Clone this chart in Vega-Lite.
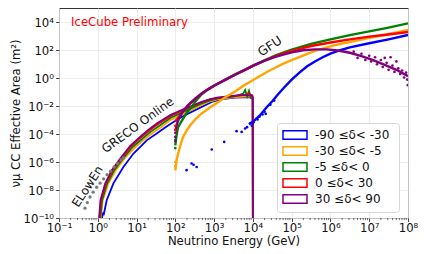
{
  "$schema": "https://vega.github.io/schema/vega-lite/v6.json",
  "width": 349,
  "height": 210,
  "autosize": "none",
  "padding": {"left": 59, "top": 8, "right": 16, "bottom": 36},
  "background": "white",
  "config": {
    "font": "DejaVu Sans",
    "view": {"stroke": "#333", "strokeWidth": 1},
    "axis": {
      "domain": false, "tickColor": "#333", "tickSize": 3.5, "tickWidth": 0.9,
      "labelFontSize": 11.7, "labelColor": "#111", "titleFontSize": 11.7,
      "titleFontWeight": "normal", "titleColor": "#111", "labelPadding": 2,
      "titlePadding": 2, "labelFlush": false, "labelOverlap": false,
      "gridColor": "#e8e8e8", "gridWidth": 0.8
    }
  },
  "datasets": {
    "greco": [
      {"b":"n90","E":1.259,"A":6.31e-11},{"b":"n90","E":1.349,"A":2.512e-10},{"b":"n90","E":1.413,"A":1.585e-10},{"b":"n90","E":1.698,"A":1.862e-9},{"b":"n90","E":2.512,"A":2.884e-8},{"b":"n90","E":4.571,"A":4.467e-7},{"b":"n90","E":8.318,"A":4.074e-6},{"b":"n90","E":18.62,"A":3.715e-5},{"b":"n90","E":33.11,"A":1.122e-4},{"b":"n90","E":50.12,"A":2.512e-4},{"b":"n90","E":74.13,"A":5.248e-4},{"b":"n90","E":177.8,"A":2.291e-3},{"b":"n90","E":478.6,"A":8.913e-3},{"b":"n90","E":871,"A":2.042e-2},{"b":"n90","E":1585,"A":3.162e-2},{"b":"n90","E":3467,"A":4.169e-2},{"b":"n90","E":7943,"A":4.467e-2},{"b":"n90","E":9900,"A":3.548e-2},{"b":"n90","E":10000,"A":1e-11},
      {"b":"n30","E":1.175,"A":6.31e-11},{"b":"n30","E":1.349,"A":1.862e-9},{"b":"n30","E":1.862,"A":2.884e-8},{"b":"n30","E":2.884,"A":2.512e-7},{"b":"n30","E":4.898,"A":1.82e-6},{"b":"n30","E":8.913,"A":1.047e-5},{"b":"n30","E":15.85,"A":4.169e-5},{"b":"n30","E":26.3,"A":1.259e-4},{"b":"n30","E":44.67,"A":3.311e-4},{"b":"n30","E":74.13,"A":1e-3},{"b":"n30","E":125.9,"A":1.995e-3},{"b":"n30","E":213.8,"A":3.981e-3},{"b":"n30","E":478.6,"A":1.202e-2},{"b":"n30","E":794.3,"A":2.239e-2},{"b":"n30","E":1288,"A":3.162e-2},{"b":"n30","E":3467,"A":4.467e-2},{"b":"n30","E":7943,"A":5.012e-2},{"b":"n30","E":9900,"A":3.981e-2},{"b":"n30","E":10000,"A":1e-11},
      {"b":"n5","E":1.148,"A":6.31e-11},{"b":"n5","E":1.288,"A":1.862e-9},{"b":"n5","E":1.738,"A":2.884e-8},{"b":"n5","E":2.63,"A":2.512e-7},{"b":"n5","E":4.467,"A":1.82e-6},{"b":"n5","E":7.943,"A":1.202e-5},{"b":"n5","E":14.45,"A":5.012e-5},{"b":"n5","E":23.44,"A":1.514e-4},{"b":"n5","E":39.81,"A":4.169e-4},{"b":"n5","E":74.13,"A":1.413e-3},{"b":"n5","E":125.9,"A":2.818e-3},{"b":"n5","E":213.8,"A":5.623e-3},{"b":"n5","E":478.6,"A":1.585e-2},{"b":"n5","E":794.3,"A":2.63e-2},{"b":"n5","E":1288,"A":3.548e-2},{"b":"n5","E":3467,"A":5.012e-2},{"b":"n5","E":5623,"A":7.943e-2},{"b":"n5","E":6310,"A":0.1413},{"b":"n5","E":7079,"A":5.012e-2},{"b":"n5","E":7943,"A":0.1259},{"b":"n5","E":8913,"A":3.981e-2},{"b":"n5","E":9900,"A":3.162e-2},{"b":"n5","E":10000,"A":1e-11},
      {"b":"p0","E":1.096,"A":6.31e-11},{"b":"p0","E":1.202,"A":1.862e-9},{"b":"p0","E":1.622,"A":2.884e-8},{"b":"p0","E":2.399,"A":2.512e-7},{"b":"p0","E":4.074,"A":1.82e-6},{"b":"p0","E":7.244,"A":1.318e-5},{"b":"p0","E":13.18,"A":6.026e-5},{"b":"p0","E":21.38,"A":1.82e-4},{"b":"p0","E":35.48,"A":5.012e-4},{"b":"p0","E":74.13,"A":1.905e-3},{"b":"p0","E":125.9,"A":3.802e-3},{"b":"p0","E":213.8,"A":7.244e-3},{"b":"p0","E":478.6,"A":1.905e-2},{"b":"p0","E":794.3,"A":3.02e-2},{"b":"p0","E":1288,"A":3.981e-2},{"b":"p0","E":3467,"A":5.37e-2},{"b":"p0","E":6310,"A":6.31e-2},{"b":"p0","E":7943,"A":7.943e-2},{"b":"p0","E":9333,"A":5.623e-2},{"b":"p0","E":9900,"A":3.981e-2},{"b":"p0","E":10000,"A":1e-11},
      {"b":"p30","E":1.072,"A":6.31e-11},{"b":"p30","E":1.175,"A":1.862e-9},{"b":"p30","E":1.549,"A":2.884e-8},{"b":"p30","E":2.291,"A":2.63e-7},{"b":"p30","E":3.802,"A":1.82e-6},{"b":"p30","E":6.761,"A":1.413e-5},{"b":"p30","E":12.3,"A":6.31e-5},{"b":"p30","E":19.95,"A":1.995e-4},{"b":"p30","E":33.1,"A":5.754e-4},{"b":"p30","E":74.13,"A":2.291e-3},{"b":"p30","E":125.9,"A":4.467e-3},{"b":"p30","E":213.8,"A":8.318e-3},{"b":"p30","E":478.6,"A":2.042e-2},{"b":"p30","E":794.3,"A":3.162e-2},{"b":"p30","E":1288,"A":4.169e-2},{"b":"p30","E":3467,"A":5.623e-2},{"b":"p30","E":6310,"A":6.31e-2},{"b":"p30","E":7943,"A":5.623e-2},{"b":"p30","E":9333,"A":6.31e-2},{"b":"p30","E":9900,"A":5.012e-2},{"b":"p30","E":10000,"A":1e-11}
    ],
    "gfu": [
      {"b":"n90","E":7943,"A":5.012e-4},{"b":"n90","E":11220,"A":1e-3},{"b":"n90","E":15850,"A":2.512e-3},{"b":"n90","E":22390,"A":7.943e-3},{"b":"n90","E":31620,"A":2.239e-2},{"b":"n90","E":44670,"A":7.079e-2},{"b":"n90","E":63100,"A":0.2089},{"b":"n90","E":100000,"A":0.7943},{"b":"n90","E":158500,"A":2.512},{"b":"n90","E":251200,"A":7.079},{"b":"n90","E":398100,"A":15.85},{"b":"n90","E":631000,"A":31.62},{"b":"n90","E":1000000,"A":56.23},{"b":"n90","E":1778000,"A":100},{"b":"n90","E":3162000,"A":158.5},{"b":"n90","E":10000000,"A":316.2},{"b":"n90","E":31620000,"A":602.6},{"b":"n90","E":100000000,"A":1230},
      {"b":"n30","E":100,"A":2.512e-7},{"b":"n30","E":107.2,"A":1.259e-6},{"b":"n30","E":117.5,"A":3.981e-6},{"b":"n30","E":134.9,"A":1.585e-5},{"b":"n30","E":158.5,"A":6.31e-5},{"b":"n30","E":199.5,"A":1.995e-4},{"b":"n30","E":263,"A":5.754e-4},{"b":"n30","E":354.8,"A":1.413e-3},{"b":"n30","E":478.6,"A":3.02e-3},{"b":"n30","E":794.3,"A":8.318e-3},{"b":"n30","E":1288,"A":1.995e-2},{"b":"n30","E":1995,"A":4.467e-2},{"b":"n30","E":3467,"A":0.1122},{"b":"n30","E":5623,"A":0.2818},{"b":"n30","E":8511,"A":0.5495},{"b":"n30","E":14130,"A":1.259},{"b":"n30","E":23440,"A":2.884},{"b":"n30","E":39810,"A":6.026},{"b":"n30","E":63100,"A":11.48},{"b":"n30","E":100000,"A":19.95},{"b":"n30","E":169800,"A":35.48},{"b":"n30","E":281800,"A":63.1},{"b":"n30","E":457100,"A":102.3},{"b":"n30","E":1230000,"A":223.9},{"b":"n30","E":3311000,"A":407.4},{"b":"n30","E":8913000,"A":707.9},{"b":"n30","E":23990000,"A":1230},{"b":"n30","E":50120000,"A":1862},{"b":"n30","E":100000000,"A":2818},
      {"b":"n5","E":100,"A":1.585e-5},{"b":"n5","E":107.2,"A":7.943e-5},{"b":"n5","E":117.5,"A":3.162e-4},{"b":"n5","E":158.5,"A":1.259e-3},{"b":"n5","E":199.5,"A":3.548e-3},{"b":"n5","E":263,"A":8.913e-3},{"b":"n5","E":354.8,"A":2.818e-2},{"b":"n5","E":478.6,"A":7.079e-2},{"b":"n5","E":707.9,"A":0.1585},{"b":"n5","E":1047,"A":0.3162},{"b":"n5","E":1995,"A":0.8318},{"b":"n5","E":3467,"A":1.862},{"b":"n5","E":6310,"A":4.169},{"b":"n5","E":10000,"A":7.943},{"b":"n5","E":19950,"A":19.05},{"b":"n5","E":39810,"A":44.67},{"b":"n5","E":100000,"A":112.2},{"b":"n5","E":316200,"A":281.8},{"b":"n5","E":1000000,"A":602.6},{"b":"n5","E":3162000,"A":1202},{"b":"n5","E":10000000,"A":2239},{"b":"n5","E":31620000,"A":4169},{"b":"n5","E":100000000,"A":8318},
      {"b":"p0","E":100,"A":7.943e-4},{"b":"p0","E":120.2,"A":1.585e-3},{"b":"p0","E":144.5,"A":3.162e-3},{"b":"p0","E":213.8,"A":1.175e-2},{"b":"p0","E":316.2,"A":3.162e-2},{"b":"p0","E":478.6,"A":7.943e-2},{"b":"p0","E":707.9,"A":0.166},{"b":"p0","E":1047,"A":0.3162},{"b":"p0","E":1995,"A":0.7943},{"b":"p0","E":3467,"A":1.778},{"b":"p0","E":6310,"A":3.981},{"b":"p0","E":10000,"A":7.586},{"b":"p0","E":19950,"A":17.78},{"b":"p0","E":39810,"A":39.81},{"b":"p0","E":100000,"A":89.13},{"b":"p0","E":316200,"A":199.5},{"b":"p0","E":1000000,"A":354.8},{"b":"p0","E":3162000,"A":602.6},{"b":"p0","E":10000000,"A":933.3},{"b":"p0","E":31620000,"A":1349},{"b":"p0","E":100000000,"A":1995},
      {"b":"p30","E":100,"A":1.585e-4},{"b":"p30","E":112.2,"A":6.31e-4},{"b":"p30","E":125.9,"A":1.413e-3},{"b":"p30","E":158.5,"A":4.467e-3},{"b":"p30","E":213.8,"A":1.122e-2},{"b":"p30","E":316.2,"A":3.162e-2},{"b":"p30","E":478.6,"A":7.943e-2},{"b":"p30","E":707.9,"A":0.166},{"b":"p30","E":1047,"A":0.3162},{"b":"p30","E":1995,"A":0.7943},{"b":"p30","E":3467,"A":1.778},{"b":"p30","E":6310,"A":3.981},{"b":"p30","E":10000,"A":7.586},{"b":"p30","E":19950,"A":17.78},{"b":"p30","E":39810,"A":35.48},{"b":"p30","E":100000,"A":70.79},{"b":"p30","E":199500,"A":100},{"b":"p30","E":398100,"A":114.8},{"b":"p30","E":794300,"A":114.8},{"b":"p30","E":1585000,"A":95.5},{"b":"p30","E":3162000,"A":66.07},{"b":"p30","E":6310000,"A":38.02},{"b":"p30","E":12590000,"A":19.95},{"b":"p30","E":25120000,"A":8.913},{"b":"p30","E":50120000,"A":3.981},{"b":"p30","E":100000000,"A":1.413}
    ],
    "pts": [
      {"b":"n90","E":195,"A":2.63e-7},{"b":"n90","E":263,"A":7.943e-7},{"b":"n90","E":295.1,"A":6.31e-7},{"b":"n90","E":354.8,"A":4.467e-7},{"b":"n90","E":871,"A":7.943e-6},{"b":"n90","E":1820,"A":2.754e-5},{"b":"n90","E":3802,"A":1.622e-4},{"b":"n90","E":5129,"A":1.445e-4},{"b":"n90","E":6310,"A":2.512e-4},{"b":"n90","E":7079,"A":3.162e-4},{"b":"n90","E":8511,"A":5.754e-4},{"b":"n90","E":9333,"A":3.981e-4},{"b":"n90","E":10470,"A":7.079e-4},{"b":"n90","E":13180,"A":1.122e-3},{"b":"n90","E":14790,"A":1.778e-3},{"b":"n90","E":17780,"A":2.512e-3},{"b":"n90","E":19950,"A":3.981e-3},{"b":"n90","E":21380,"A":2.818e-3},{"b":"n90","E":28180,"A":1.259e-2},{"b":"n90","E":35480,"A":2.512e-2},
      {"b":"n30","E":100,"A":5e-7},{"b":"n30","E":100,"A":1e-6},
      {"b":"n5","E":100,"A":3.981e-5},{"b":"n5","E":100,"A":1e-5},
      {"b":"p0","E":100,"A":3.981e-4},{"b":"p0","E":100,"A":2e-4},
      {"b":"p30","E":100,"A":6.31e-5},{"b":"p30","E":100,"A":3.162e-5},{"b":"p30","E":100,"A":1.259e-4},
      {"b":"p30","E":3981000,"A":79.43},{"b":"p30","E":5012000,"A":28.18},{"b":"p30","E":6310000,"A":56.23},{"b":"p30","E":7943000,"A":19.95},{"b":"p30","E":10000000,"A":39.81},{"b":"p30","E":11220000,"A":15.85},{"b":"p30","E":14130000,"A":31.62},{"b":"p30","E":15850000,"A":10},{"b":"p30","E":19950000,"A":19.95},{"b":"p30","E":22390000,"A":6.31},{"b":"p30","E":28180000,"A":12.59},{"b":"p30","E":31620000,"A":3.981},{"b":"p30","E":39810000,"A":7.943},{"b":"p30","E":44670000,"A":2.818},{"b":"p30","E":56230000,"A":5.012},{"b":"p30","E":63100000,"A":1.995},{"b":"p30","E":70790000,"A":3.548},{"b":"p30","E":79430000,"A":1.122},{"b":"p30","E":89130000,"A":2.512},{"b":"p30","E":95500000,"A":0.7943},{"b":"p30","E":50120000,"A":15.85},{"b":"p30","E":25120000,"A":28.18},{"b":"p30","E":35480000,"A":31.62},{"b":"p30","E":99000000,"A":0.3162}
    ],
    "elowen": [
      {"E":0.4677,"A":5.012e-10},{"E":0.537,"A":1.259e-9},{"E":0.631,"A":3.162e-9},{"E":0.7586,"A":7.079e-9},{"E":0.9333,"A":1.585e-8},{"E":1.148,"A":3.162e-8},{"E":1.413,"A":6.31e-8},{"E":1.738,"A":1.259e-7},{"E":2.138,"A":2.239e-7},{"E":2.63,"A":4.467e-7},{"E":3.236,"A":7.943e-7},{"E":3.981,"A":1.413e-6},{"E":4.571,"A":1.995e-6}
    ],
    "minor": [
      {"E":0.2},{"E":0.3},{"E":0.4},{"E":0.5},{"E":0.6},{"E":0.7},{"E":0.8},{"E":0.9},
      {"E":2},{"E":3},{"E":4},{"E":5},{"E":6},{"E":7},{"E":8},{"E":9},
      {"E":20},{"E":30},{"E":40},{"E":50},{"E":60},{"E":70},{"E":80},{"E":90},
      {"E":200},{"E":300},{"E":400},{"E":500},{"E":600},{"E":700},{"E":800},{"E":900},
      {"E":2000},{"E":3000},{"E":4000},{"E":5000},{"E":6000},{"E":7000},{"E":8000},{"E":9000},
      {"E":20000},{"E":30000},{"E":40000},{"E":50000},{"E":60000},{"E":70000},{"E":80000},{"E":90000},
      {"E":200000},{"E":300000},{"E":400000},{"E":500000},{"E":600000},{"E":700000},{"E":800000},{"E":900000},
      {"E":2000000},{"E":3000000},{"E":4000000},{"E":5000000},{"E":6000000},{"E":7000000},{"E":8000000},{"E":9000000},
      {"E":20000000},{"E":30000000},{"E":40000000},{"E":50000000},{"E":60000000},{"E":70000000},{"E":80000000},{"E":90000000}
    ]
  },
  "layer": [
    {
      "data": {"name": "greco"},
      "mark": {"type": "line", "strokeWidth": 1.8, "clip": true},
      "encoding": {
        "x": {"field": "E", "type": "quantitative",
              "scale": {"type": "log", "domain": [0.1, 100000000], "nice": false},
              "axis": {"title": "Neutrino Energy (GeV)", "grid": true, "titleY": 26.5, "titleBaseline": "alphabetic",
                       "labelPadding": 0.5,
                       "values": [0.1,1,10,100,1000,10000,100000,1000000,10000000,100000000],
                       "labelExpr": "['10⁻¹','10⁰','10¹','10²','10³','10⁴','10⁵','10⁶','10⁷','10⁸'][round(log(datum.value)/LN10)+1]"}},
        "y": {"field": "A", "type": "quantitative",
              "scale": {"type": "log", "domain": [1e-10, 105000], "nice": false},
              "axis": {"title": "νμ CC Effective Area (m²)", "grid": true,
                       "values": [1e-10,1e-8,1e-6,1e-4,1e-2,1,100,10000],
                       "labelExpr": "['10⁻¹⁰','10⁻⁸','10⁻⁶','10⁻⁴','10⁻²','10⁰','10²','10⁴'][round(log(datum.value)/LN10/2)+5]"}},
        "stroke": {"field": "b", "type": "nominal",
                  "scale": {"domain": ["n90","n30","n5","p0","p30"], "range": ["#0000ff","#ffa500","#008000","#ff0000","#800080"]},
                  "legend": {"title": null, "orient": "none", "legendX": 218, "legendY": 115,
                             "fillColor": "white", "strokeColor": "#d6d6d6", "cornerRadius": 3, "padding": 5,
                             "symbolType": "M-2,-0.7H2V0.7H-2Z", "symbolSize": 144, "symbolOffset": 6,
                             "symbolStrokeWidth": 1.5, "symbolFillColor": "white", "labelOffset": 13,
                             "labelFontSize": 12, "labelColor": "#111", "rowPadding": 0,
                             "encode": {"symbols": {"update": {"fill": {"value": "white"}}}},
                             "labelExpr": "datum.value=='n90' ? '-90 ≤δ<  -30' : datum.value=='n30' ? '-30 ≤δ<  -5' : datum.value=='n5' ? '-5 ≤δ<  0' : datum.value=='p0' ? '0 ≤δ<  30' : '30 ≤δ<  90'"}}
      }
    },
    {
      "data": {"name": "gfu"},
      "mark": {"type": "line", "strokeWidth": 2.4, "clip": true},
      "encoding": {
        "x": {"field": "E", "type": "quantitative"},
        "y": {"field": "A", "type": "quantitative"},
        "stroke": {"field": "b", "type": "nominal"}
      }
    },
    {
      "data": {"name": "pts"},
      "transform": [{"filter": {"field": "b", "equal": "n90"}}],
      "mark": {"type": "circle", "size": 7, "opacity": 1, "clip": true, "color": "#0000ff"},
      "encoding": {"x": {"field": "E", "type": "quantitative"}, "y": {"field": "A", "type": "quantitative"}}
    },
    {
      "data": {"name": "pts"},
      "transform": [{"filter": {"field": "b", "equal": "n30"}}],
      "mark": {"type": "circle", "size": 7, "opacity": 1, "clip": true, "color": "#ffa500"},
      "encoding": {"x": {"field": "E", "type": "quantitative"}, "y": {"field": "A", "type": "quantitative"}}
    },
    {
      "data": {"name": "pts"},
      "transform": [{"filter": {"field": "b", "equal": "n5"}}],
      "mark": {"type": "circle", "size": 7, "opacity": 1, "clip": true, "color": "#008000"},
      "encoding": {"x": {"field": "E", "type": "quantitative"}, "y": {"field": "A", "type": "quantitative"}}
    },
    {
      "data": {"name": "pts"},
      "transform": [{"filter": {"field": "b", "equal": "p0"}}],
      "mark": {"type": "circle", "size": 7, "opacity": 1, "clip": true, "color": "#ff0000"},
      "encoding": {"x": {"field": "E", "type": "quantitative"}, "y": {"field": "A", "type": "quantitative"}}
    },
    {
      "data": {"name": "pts"},
      "transform": [{"filter": {"field": "b", "equal": "p30"}}],
      "mark": {"type": "circle", "size": 7, "opacity": 1, "clip": true, "color": "#800080"},
      "encoding": {"x": {"field": "E", "type": "quantitative"}, "y": {"field": "A", "type": "quantitative"}}
    },
    {
      "data": {"name": "elowen"},
      "mark": {"type": "circle", "size": 11, "color": "#7a7a7a", "opacity": 1},
      "encoding": {
        "x": {"field": "E", "type": "quantitative"},
        "y": {"field": "A", "type": "quantitative"}
      }
    },
    {
      "data": {"name": "minor"},
      "mark": {"type": "rule", "color": "#333", "strokeWidth": 0.7, "clip": false},
      "encoding": {
        "x": {"field": "E", "type": "quantitative"},
        "y": {"datum": 1e-10, "type": "quantitative"},
        "y2": {"datum": 7.08e-11}
      }
    },
    {
      "data": {"values": [{"t": "IceCube Preliminary", "E": 0.204, "A": 10500}]},
      "mark": {"type": "text", "align": "left", "baseline": "middle", "fontSize": 11.7, "color": "#ff0000"},
      "encoding": {
        "x": {"field": "E", "type": "quantitative"},
        "y": {"field": "A", "type": "quantitative"},
        "text": {"field": "t"}
      }
    },
    {
      "data": {"values": [{"t": "GRECO Online", "E": 10.7, "A": 4.4e-4}]},
      "mark": {"type": "text", "align": "center", "baseline": "middle", "fontSize": 12, "angle": -36, "color": "#111"},
      "encoding": {
        "x": {"field": "E", "type": "quantitative"},
        "y": {"field": "A", "type": "quantitative"},
        "text": {"field": "t"}
      }
    },
    {
      "data": {"values": [{"t": "ELowEn", "E": 0.544, "A": 1.8e-8}]},
      "mark": {"type": "text", "align": "center", "baseline": "middle", "fontSize": 12, "angle": -57, "color": "#111"},
      "encoding": {
        "x": {"field": "E", "type": "quantitative"},
        "y": {"field": "A", "type": "quantitative"},
        "text": {"field": "t"}
      }
    },
    {
      "data": {"values": [{"t": "GFU", "E": 27500, "A": 190}]},
      "mark": {"type": "text", "align": "center", "baseline": "middle", "fontSize": 12.4, "angle": -33, "color": "#111"},
      "encoding": {
        "x": {"field": "E", "type": "quantitative"},
        "y": {"field": "A", "type": "quantitative"},
        "text": {"field": "t"}
      }
    }
  ]
}
